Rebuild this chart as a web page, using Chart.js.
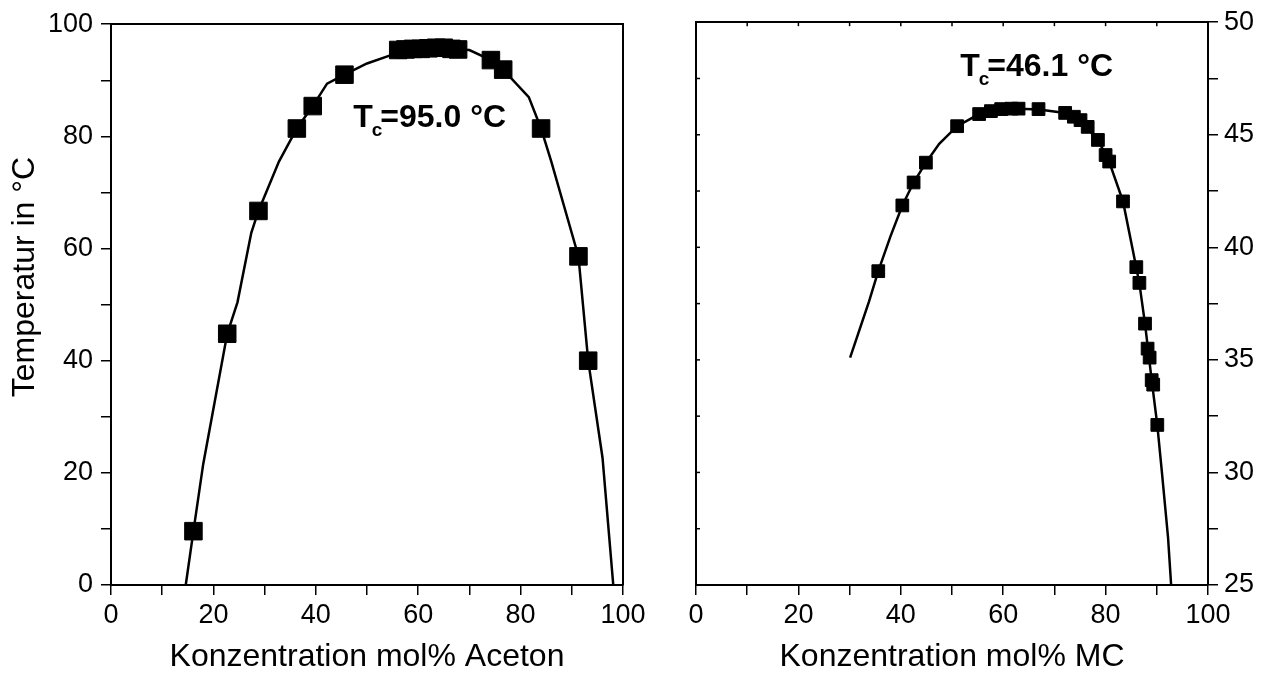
<!DOCTYPE html>
<html>
<head>
<meta charset="utf-8">
<script src="https://cdn.jsdelivr.net/npm/chart.js@4.4.0/dist/chart.umd.min.js"></script>
<style>
  body { margin: 0; background: #fff; width: 1267px; height: 675px; overflow: hidden; position: relative; }
  canvas { position: absolute; top: 0; }
  #aceton { left: 0; }
  #mc { left: 650px; }
</style>
</head>
<body>
<canvas id="aceton" width="650" height="675"></canvas>
<canvas id="mc" width="617" height="675"></canvas>
<script>
// ---- Aceton (left panel) ----
const acetonX = [16.1, 22.7, 28.8, 36.3, 39.4, 45.6, 56.1, 57.5, 59.0, 60.5, 62.0, 63.5, 65.0, 66.5, 67.8, 74.2, 76.6, 84.0, 91.3, 93.2]
const acetonT = [9.6, 44.8, 66.7, 81.4, 85.4, 91.0, 95.4, 95.5, 95.6, 95.6, 95.7, 95.8, 95.8, 95.6, 95.5, 93.6, 91.9, 81.4, 58.6, 40.0]
const acetonFitX = [14.6, 16.1, 18.0, 22.7, 24.7, 27.4, 28.8, 32.8, 36.3, 39.4, 42.2, 45.6, 50.0, 54.4, 58.0, 62.0, 66.0, 70.0, 74.2, 76.6, 81.6, 84.0, 86.0, 91.3, 93.2, 96.0, 98.1]
const acetonFitT = [0, 9.6, 21.5, 44.8, 50.4, 62.8, 66.7, 75.5, 81.4, 85.4, 89.4, 91.0, 93.0, 94.4, 95.2, 95.6, 95.6, 95.4, 93.6, 91.9, 87.0, 81.4, 75.5, 58.6, 40.0, 22.7, 0]

// ---- MC (right panel) ----
const mcX = [35.6, 40.3, 42.5, 44.9, 51.0, 55.3, 57.6, 59.6, 61.6, 63.0, 66.9, 72.1, 73.8, 75.1, 76.5, 78.5, 80.0, 80.7, 83.4, 86.0, 86.6, 87.7, 88.2, 88.6, 89.0, 89.3, 90.1]
const mcT = [38.94, 41.86, 42.88, 43.76, 45.38, 45.92, 46.05, 46.14, 46.16, 46.16, 46.14, 45.97, 45.80, 45.65, 45.35, 44.77, 44.10, 43.81, 42.04, 39.12, 38.42, 36.61, 35.50, 35.10, 34.10, 33.90, 32.11]
const mcFitX = [30.1, 33.8, 35.6, 38.0, 40.3, 42.5, 44.9, 47.5, 51.0, 55.3, 60.0, 63.0, 67.0, 72.1, 75.1, 78.5, 80.7, 83.4, 85.2, 86.6, 87.7, 89.0, 90.1, 91.0, 92.2, 92.8]
const mcFitT = [35.1, 37.6, 38.94, 40.5, 41.86, 42.88, 43.76, 44.6, 45.38, 45.92, 46.13, 46.16, 46.12, 45.97, 45.6, 44.77, 43.8, 42.04, 40.0, 38.4, 36.6, 34.1, 32.1, 30.0, 27.1, 25.0]

// tick labels
const xTickLabels = [0, 20, 40, 60, 80, 100]
const acetonTickLabels = [0, 20, 40, 60, 80, 100]
const mcTickLabels = [25, 30, 35, 40, 45, 50]

// critical temperature labels: [x, y] in data units
const acetonTc = { value: '95.0', at: [47.3, 81.6] }
const mcTc = { value: '46.1', at: [51.6, 47.6] }

const FONT = '"Liberation Sans", Arial, sans-serif'

const pts = (xs, ys) => xs.map((x, i) => ({ x: x, y: ys[i] }))
const only = list => v => list.some(l => Math.abs(l - v) < 1e-6) ? String(v) : ''
const frameGrid = ticks => ({ display: true, drawOnChartArea: false, drawTicks: ticks, tickLength: 10, color: '#000', lineWidth: 1.5 })
const frameBorder = { display: true, color: '#000', width: 2 }

// T_c label with subscript
const tcLabel = {
  id: 'tcLabel',
  afterDraw(chart, args, opts) {
    if (!opts.value) return
    const ctx = chart.ctx
    let px = chart.scales.x.getPixelForValue(opts.at[0])
    let py = chart.scales.y.getPixelForValue(opts.at[1])
    ctx.save()
    ctx.fillStyle = '#000'
    ctx.textBaseline = 'alphabetic'
    ctx.textAlign = 'left'
    ctx.font = 'bold 32px ' + FONT
    ctx.fillText('T', px, py)
    let w = ctx.measureText('T').width
    ctx.font = 'bold 19px ' + FONT
    ctx.fillText('c', px + w - 1, py + 9)
    let wc = ctx.measureText('c').width
    ctx.font = 'bold 32px ' + FONT
    ctx.fillText('=' + opts.value + ' °C', px + w + wc - 3, py)
    ctx.restore()
  }
}

// rotated y title placed like in the original figure
const sideTitle = {
  id: 'sideTitle',
  afterDraw(chart, args, opts) {
    if (!opts.text) return
    const ctx = chart.ctx
    ctx.save()
    ctx.translate(opts.x, opts.y)
    ctx.rotate(-Math.PI / 2)
    ctx.fillStyle = '#000'
    ctx.font = '32px ' + FONT
    ctx.textAlign = 'center'
    ctx.textBaseline = 'middle'
    ctx.fillText(opts.text, 0, 0)
    ctx.restore()
  }
}

// short inward ticks on the mirrored axes of the right panel
const innerTicks = {
  id: 'innerTicks',
  afterDraw(chart, args, opts) {
    if (!opts.scales) return
    const ctx = chart.ctx, a = chart.chartArea
    ctx.save()
    ctx.strokeStyle = '#000'
    ctx.lineWidth = 1.5
    for (const id of opts.scales) {
      const s = chart.scales[id]
      for (const t of s.ticks) {
        const p = s.getPixelForValue(t.value)
        ctx.beginPath()
        if (s.isHorizontal()) { ctx.moveTo(p, a.top); ctx.lineTo(p, a.top + 4) }
        else { ctx.moveTo(a.left, p); ctx.lineTo(a.left + 4, p) }
        ctx.stroke()
      }
    }
    ctx.restore()
  }
}

Chart.register(tcLabel, sideTitle, innerTicks)

const datasets = (xs, ys, fx, fy, r) => [
  {
    data: pts(xs, ys), showLine: false, pointStyle: 'rect', pointRadius: r, pointHoverRadius: r,
    backgroundColor: '#000', borderColor: '#000', borderWidth: 1, order: 0
  },
  {
    data: pts(fx, fy), showLine: true, pointRadius: 0, borderColor: '#000', borderWidth: 2.5,
    tension: 0, fill: false, order: 1
  }
]

const xBottom = title => ({
  type: 'linear', position: 'bottom', min: 0, max: 100,
  ticks: { stepSize: 10, autoSkip: false, maxRotation: 0, padding: 4, color: '#000', font: { family: FONT, size: 27 }, callback: only(xTickLabels) },
  grid: frameGrid(true), border: frameBorder,
  title: { display: true, text: title, color: '#000', font: { family: FONT, size: 32, lineHeight: 1 }, padding: { top: 0, bottom: 2 } },
  afterFit: s => { s.height = 90 }
})

// ============ left chart ============
new Chart(document.getElementById('aceton').getContext('2d'), {
  type: 'scatter',
  data: { datasets: datasets(acetonX, acetonT, acetonFitX, acetonFitT, 12.4) },
  options: {
    responsive: false, animation: false,
    layout: { padding: 0 },
    plugins: {
      legend: { display: false }, tooltip: { enabled: false }, tcLabel: acetonTc,
      sideTitle: { text: 'Temperatur in °C', x: 25, y: 277 }
    },
    scales: {
      x: xBottom('Konzentration mol% Aceton'),
      xTop: {
        type: 'linear', axis: 'x', position: 'top', min: 0, max: 100,
        ticks: { display: false }, grid: frameGrid(false), border: frameBorder,
        afterFit: s => { s.height = 20 }
      },
      y: {
        type: 'linear', position: 'left', min: 0, max: 100,
        ticks: { stepSize: 10, autoSkip: false, padding: 8, color: '#000', font: { family: FONT, size: 27 }, callback: only(acetonTickLabels) },
        grid: frameGrid(true), border: frameBorder,
        afterFit: s => { s.width = 111 }
      },
      yRight: {
        type: 'linear', axis: 'y', position: 'right', min: 0, max: 100,
        ticks: { display: false }, grid: frameGrid(false), border: frameBorder,
        afterFit: s => { s.width = 27 }
      }
    }
  }
})

// ============ right chart ============
new Chart(document.getElementById('mc').getContext('2d'), {
  type: 'scatter',
  data: { datasets: datasets(mcX, mcT, mcFitX, mcFitT, 9) },
  options: {
    responsive: false, animation: false,
    layout: { padding: 0 },
    plugins: { legend: { display: false }, tooltip: { enabled: false }, tcLabel: mcTc, innerTicks: { scales: ['xTop', 'yLeft'] } },
    scales: {
      x: xBottom('Konzentration mol% MC'),
      xTop: {
        type: 'linear', axis: 'x', position: 'top', min: 0, max: 100,
        ticks: { display: false, stepSize: 10 }, grid: frameGrid(false), border: frameBorder,
        afterFit: s => { s.height = 20 }
      },
      yLeft: {
        type: 'linear', axis: 'y', position: 'left', min: 25, max: 50,
        ticks: { display: false, stepSize: 2.5 }, grid: frameGrid(false), border: frameBorder,
        afterFit: s => { s.width = 46 }
      },
      y: {
        type: 'linear', position: 'right', min: 25, max: 50,
        ticks: { stepSize: 2.5, autoSkip: false, padding: 6, color: '#000', font: { family: FONT, size: 27 }, callback: only(mcTickLabels) },
        grid: frameGrid(true), border: frameBorder,
        afterFit: s => { s.width = 59 }
      }
    }
  }
})
</script>
</body>
</html>
